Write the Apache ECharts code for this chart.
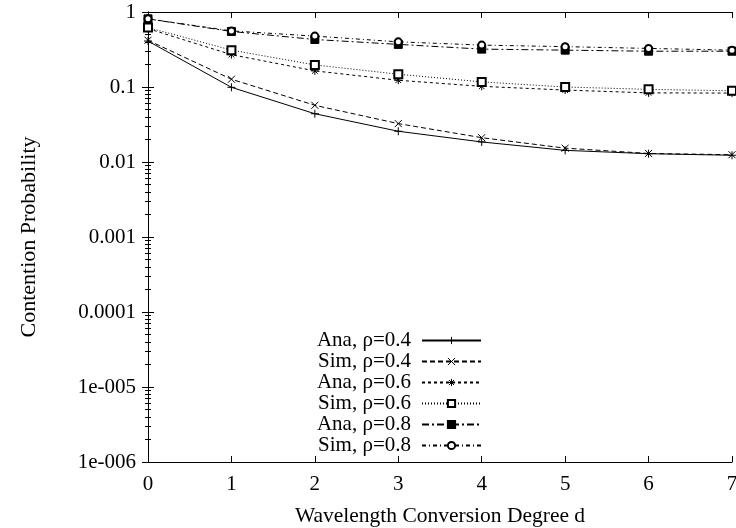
<!DOCTYPE html>
<html>
<head>
<meta charset="utf-8">
<script src="https://cdn.jsdelivr.net/npm/echarts@6/dist/echarts.min.js"></script>
<style>
html,body{margin:0;padding:0;background:#fff;}
#c{width:736px;height:528px;}
</style>
</head>
<body>
<div id="c"></div>
<script>
const degrees = [0, 1, 2, 3, 4, 5, 6, 7];
const xTicks = ['0','1','2','3','4','5','6','7'];
const anaRho04 = [0.41, 0.099, 0.044, 0.0257, 0.0185, 0.0143, 0.0129, 0.0123];
const simRho04 = [0.42, 0.127, 0.057, 0.0325, 0.0211, 0.0153, 0.0130, 0.0125];
const anaRho06 = [0.60, 0.27, 0.164, 0.123, 0.102, 0.091, 0.0835, 0.083];
const simRho06 = [0.62, 0.31, 0.197, 0.148, 0.117, 0.100, 0.093, 0.089];
const anaRho08 = [0.81, 0.55, 0.43, 0.37, 0.32, 0.31, 0.30, 0.30];
const simRho08 = [0.81, 0.56, 0.477, 0.40, 0.362, 0.345, 0.327, 0.31];
const seriesNames = ['Ana, ρ=0.4','Sim, ρ=0.4','Ana, ρ=0.6','Sim, ρ=0.6','Ana, ρ=0.8','Sim, ρ=0.8'];

const FONT = '"Liberation Serif", "DejaVu Serif", serif';
const plusPath = 'path://M5,0 L5,10 M0,5 L10,5';
const crossPath = 'path://M0,0 L10,10 M10,0 L0,10';
const starPath = 'path://M5,0 L5,10 M0,5 L10,5 M1.5,1.5 L8.5,8.5 M8.5,1.5 L1.5,8.5';
const strokedStyle = { color: 'none', borderColor: '#000', borderWidth: 1 };

function mk(name, data, symbol, size, dash, fill, stroked) {
  return {
    name: name,
    type: 'line',
    data: data.map((v, i) => [degrees[i], v]),
    symbol: symbol,
    symbolSize: size,
    showSymbol: true,
    lineStyle: { color: '#000', width: 1, type: dash },
    itemStyle: stroked
      ? strokedStyle
      : { color: fill || '#000', borderColor: '#000', borderWidth: 1 },
    emphasis: { disabled: true },
    animation: false,
    z: 3
  };
}

const strokedSet = { 'Ana, ρ=0.4': 1, 'Sim, ρ=0.4': 1, 'Ana, ρ=0.6': 1 };
const legendData = seriesNames.map(n => strokedSet[n]
  ? { name: n, itemStyle: { color: 'none', borderColor: '#000', borderWidth: 1 } }
  : { name: n });

const chart = echarts.init(document.getElementById('c'), null, { renderer: 'canvas' });
chart.setOption({
  backgroundColor: '#fff',
  animation: false,
  textStyle: { fontFamily: FONT },
  grid: { left: 148, right: 4, top: 12, bottom: 66, containLabel: false, outerBoundsMode: 'none' },
  legend: {
    orient: 'vertical',
    right: 249,
    top: 325,
    align: 'right',
    itemWidth: 59,
    itemHeight: 9,
    itemGap: 0,
    data: legendData,
    textStyle: { fontFamily: FONT, fontSize: 21, color: '#000', lineHeight: 21, padding: [0, 6, 0, 0] },
    selectedMode: false
  },
  xAxis: [{
    type: 'value',
    min: 0, max: 7, interval: 1,
    name: 'Wavelength Conversion Degree d',
    nameLocation: 'middle',
    nameGap: 43,
    nameTextStyle: { fontFamily: FONT, fontSize: 21.5, color: '#000' },
    axisLine: { show: true, lineStyle: { color: '#000', width: 1 } },
    axisTick: { show: true, inside: true, length: 6, lineStyle: { color: '#000' } },
    axisLabel: { fontFamily: FONT, fontSize: 21, color: '#000', margin: 12, formatter: v => xTicks[v] },
    splitLine: { show: false }
  }, {
    type: 'value', position: 'top',
    min: 0, max: 7, interval: 1,
    axisLine: { show: true, lineStyle: { color: '#000', width: 1 } },
    axisTick: { show: true, inside: true, length: 6, lineStyle: { color: '#000' } },
    axisLabel: { show: false },
    splitLine: { show: false }
  }],
  yAxis: [{
    type: 'log',
    min: 1e-6, max: 1,
    logBase: 10,
    name: 'Contention Probability',
    nameLocation: 'middle',
    nameGap: 108,
    nameTextStyle: { fontFamily: FONT, fontSize: 22, color: '#000' },
    axisLine: { show: true, lineStyle: { color: '#000', width: 1 } },
    axisTick: { show: true, inside: true, length: 6, lineStyle: { color: '#000' } },
    minorTick: { show: true, splitNumber: 9, length: 3, lineStyle: { color: '#000' } },
    axisLabel: {
      fontFamily: FONT, fontSize: 21, color: '#000', margin: 12,
      formatter: function (v) {
        const map = {1:'1', 0.1:'0.1', 0.01:'0.01', 0.001:'0.001', 0.0001:'0.0001', 0.00001:'1e-005', 0.000001:'1e-006'};
        for (const k in map) { if (Math.abs(Math.log10(v) - Math.log10(+k)) < 1e-6) return map[k]; }
        return '';
      }
    },
    splitLine: { show: false }
  }, {
    type: 'log', position: 'right',
    min: 1e-6, max: 1, logBase: 10,
    axisLine: { show: true, lineStyle: { color: '#000', width: 1 } },
    axisTick: { show: true, inside: true, length: 6, lineStyle: { color: '#000' } },
    minorTick: { show: true, splitNumber: 9, length: 3, lineStyle: { color: '#000' } },
    axisLabel: { show: false },
    splitLine: { show: false }
  }],
  series: [
    mk(seriesNames[0], anaRho04, plusPath, 8, 'solid', null, true),
    mk(seriesNames[1], simRho04, crossPath, 7, [5, 3], null, true),
    mk(seriesNames[2], anaRho06, starPath, 8, [3, 3], null, true),
    mk(seriesNames[3], simRho06, 'emptyRect', 8, [1, 2]),
    mk(seriesNames[4], anaRho08, 'rect', 8, [7, 3, 2, 3]),
    mk(seriesNames[5], simRho08, 'emptyCircle', 7, [4, 3, 1, 3])
  ]
});
</script>
</body>
</html>
